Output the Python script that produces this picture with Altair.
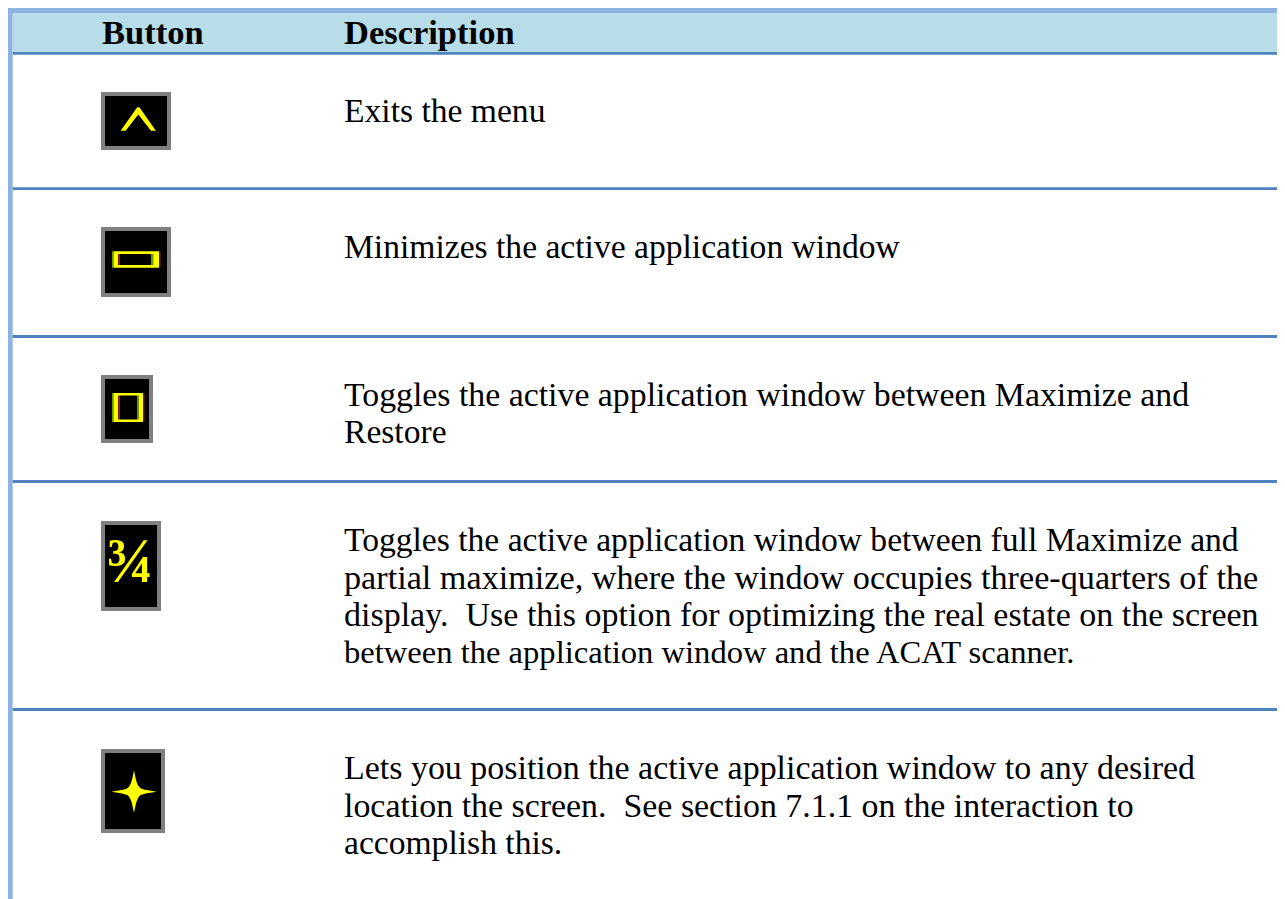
import altair as alt
import pandas as pd

W, H = 1269, 891
BLUE = "#4F81BD"; LIGHT = "#8DB3E2"; HEAD = "#B6DDE8"; GREY = "#808080"; YEL = "#FFFF00"
GRN = "#6E9A00"; RED = "#7A1500"; BLK = "#000000"
LEFT, RIGHT, TOP, BOTTOM = 8, 8 + W, 8, 8 + H

# x0, x1, y0, y1, colour  (in the picture's own units)
panels = [
 (LEFT, RIGHT, TOP, 13.5, LIGHT), (LEFT, 12.7, TOP, BOTTOM, LIGHT),
 (12.7, RIGHT, 13.5, 52, HEAD),
 (12.7, RIGHT, 52, 54.7, BLUE), (12.7, RIGHT, 187.3, 190, BLUE), (12.7, RIGHT, 335, 338, BLUE),
 (12.7, RIGHT, 480, 483, BLUE), (12.7, RIGHT, 708, 711, BLUE),
]
buttons = [
 (101, 171, 92, 150), (101, 171, 227, 297), (101, 153, 375, 443), (101, 161, 521, 611), (101, 165, 749, 833),
]
glyph_boxes = [
 (112, 113.5, 251.3, 267.7, GRN), (113.5, 159, 251.3, 267.7, YEL), (159, 160.5, 252, 267, RED),
 (118, 119.5, 254, 265, RED), (119.5, 151, 254, 265, BLK), (151, 153.5, 254, 265, GRN),
 (112, 113.5, 393, 422, GRN), (113.5, 143, 393, 422, YEL), (143, 144.5, 394, 421, RED),
 (118, 119.5, 395.5, 419.5, RED), (119.5, 137, 395.5, 419.5, BLK), (137, 139, 395.5, 419.5, GRN),
]
rows = []
for a, b, c, d, col in panels: rows.append(dict(x=a, x2=b, y=c, y2=d, c=col))
for a, b, c, d in buttons:
    rows.append(dict(x=a, x2=b, y=c, y2=d, c=GREY))
    rows.append(dict(x=a + 4, x2=b - 4, y=c + 4, y2=d - 4, c=BLK))
for a, b, c, d, col in glyph_boxes: rows.append(dict(x=a, x2=b, y=c, y2=d, c=col))

header = [("Button", 102), ("Description", 344)]
lines = [
 ("Exits the menu", 122, 33.6),
 ("Minimizes the active application window", 258, 33.6),
 ("Toggles the active application window between Maximize and", 406, 33.8),
 ("Restore", 443, 33.6),
 ("Toggles the active application window between full Maximize and", 551, 33.6),
 ("partial maximize, where the window occupies three-quarters of the", 589, 34.2),
 ("display.\u00a0 Use this option for optimizing the real estate on the screen", 626, 34.0),
 ("between the application window and the ACAT scanner.", 663, 32.6),
 ("Lets you position the active application window to any desired", 779, 33.95),
 ("location the screen.\u00a0 See section 7.1.1 on the interaction to", 817, 33.9),
 ("accomplish this.", 854, 33.6),
]

xs = alt.Scale(domain=[LEFT, RIGHT], range=[0, W], nice=False, zero=False, padding=0)
ys = alt.Scale(domain=[TOP, BOTTOM], range=[0, H], nice=False, zero=False, padding=0)
X = alt.X("x:Q", scale=xs, axis=None)
Y = alt.Y("y:Q", scale=ys, axis=None)

rects = alt.Chart(pd.DataFrame(rows)).mark_rect(strokeWidth=0).encode(
    X, alt.X2("x2:Q"), Y, alt.Y2("y2:Q"), color=alt.Color("c:N", scale=None))

head = alt.Chart(pd.DataFrame(header, columns=["t", "x"]).assign(y=44)).mark_text(
    font="Liberation Serif", fontSize=34.5, fontWeight="bold", align="left", baseline="alphabetic", color="#000000"
).encode(X, Y, text="t:N")

body = alt.Chart(pd.DataFrame(lines, columns=["t", "y", "s"]).assign(x=344)).mark_text(
    font="Liberation Serif", align="left", baseline="alphabetic", color="#000000"
).encode(X, Y, text="t:N", size=alt.Size("s:Q", scale=None))

CHEV = "M-0.06,-0.663 L0.06,-0.663 L1,0.663 L0.72,0.663 L0,-0.25 L-0.72,0.663 L-1,0.663 Z"
chev = alt.Chart(pd.DataFrame({"x": [138.3], "y": [119]})).mark_point(
    shape=CHEV, size=1246, filled=True, color=YEL, opacity=1, strokeWidth=0
).encode(X, Y)

frac = alt.Chart(pd.DataFrame({"x": [129.5], "y": [582], "t": ["¾"]})).mark_text(
    font="Liberation Serif", fontSize=63, fontWeight="bold", align="center", baseline="alphabetic", color=YEL
).encode(X, Y, text="t:N")

STAR = ("M0,-0.95 C0.08,-0.55 0.12,-0.3 0.28,-0.16 C0.42,-0.08 0.7,-0.05 1,0 "
        "C0.7,0.05 0.42,0.08 0.28,0.16 C0.12,0.3 0.08,0.55 0,0.95 "
        "C-0.08,0.55 -0.12,0.3 -0.28,0.16 C-0.42,0.08 -0.7,0.05 -1,0 "
        "C-0.7,-0.05 -0.42,-0.08 -0.28,-0.16 C-0.12,-0.3 -0.08,-0.55 0,-0.95 Z")
star = alt.Chart(pd.DataFrame({"x": [134], "y": [791.7]})).mark_point(
    shape=STAR, size=2025, filled=True, color=YEL, opacity=1, strokeWidth=0
).encode(X, Y)

chart = alt.layer(rects, head, body, chev, frac, star).properties(
    width=W, height=H, padding=0, background="#FFFFFF", autosize=alt.AutoSizeParams(type="none")
).configure_view(strokeWidth=0, stroke="transparent")

chart.save("out.html", embed_options={"renderer": "svg", "actions": False})
